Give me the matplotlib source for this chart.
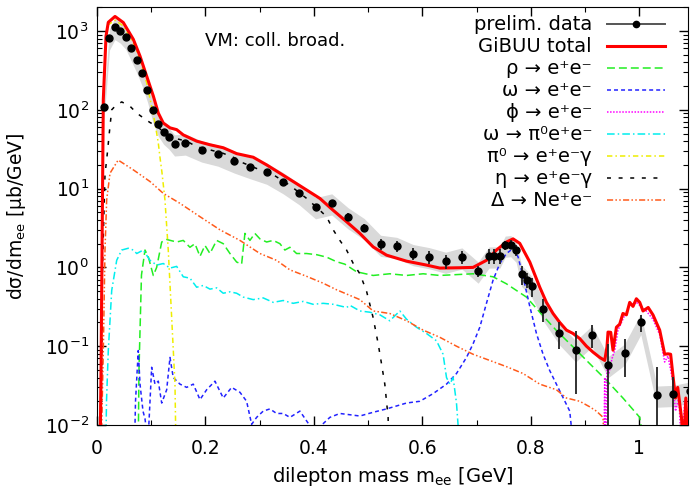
import matplotlib
matplotlib.use('Agg')
import matplotlib.pyplot as plt
import numpy as np
from matplotlib.ticker import LogLocator, MultipleLocator, FuncFormatter

plt.rcParams['font.family'] = ['DejaVu Sans']
plt.rcParams['mathtext.fontset'] = 'dejavusans'

# preliminary data, stat errors and systematic band fraction
m_data = [0.013, 0.023, 0.033, 0.043, 0.053, 0.063, 0.073, 0.083, 0.093, 0.103,
          0.113, 0.123, 0.133, 0.143, 0.163, 0.193, 0.223, 0.253, 0.283, 0.313,
          0.343, 0.373, 0.403, 0.433, 0.463, 0.493, 0.523, 0.553, 0.583, 0.613,
          0.643, 0.673, 0.703, 0.723, 0.733, 0.743, 0.753, 0.763, 0.773, 0.783,
          0.793, 0.803, 0.823, 0.853, 0.883, 0.913, 0.943, 0.973, 1.003, 1.033,
          1.063, 1.093]
y_data = [110, 820, 1110, 1000, 840, 600, 427, 289, 180, 100,
          66, 52, 45, 37, 38, 31, 27.5, 22.5, 19, 16.2,
          12.3, 8.9, 5.9, 6.6, 4.4, 3.2, 1.97, 1.85, 1.5, 1.37,
          1.2, 1.36, 0.90, 1.4, 1.4, 1.4, 1.92, 1.95, 1.66, 0.82,
          0.70, 0.575, 0.30, 0.148, 0.090, 0.14, 0.057, 0.082, 0.20, 0.024,
          0.0245, 0.027]
err_data = [8, 25, 30, 30, 25, 18, 13, 9, 6, 4,
            3, 2.5, 2.5, 2.5, 2, 2, 1.8, 1.5, 1.2, 1.0,
            0.8, 0.6, 0.45, 0.6, 0.5, 0.35, 0.3, 0.3, 0.25, 0.25,
            0.25, 0.25, 0.15, 0.3, 0.3, 0.3, 0.25, 0.25, 0.25, 0.22,
            0.15, 0.15, 0.1, 0.055, 0.065, 0.045, 0.05, 0.041, 0.05, 0.03,
            0.016, 0.018]
sys_frac = 0.3

# GiBUU total
m_tot = [0.0046, 0.0074, 0.0116, 0.0166, 0.0208, 0.0332, 0.0485, 0.0669, 0.0793, 0.0916,
         0.1038, 0.113, 0.1222, 0.1346, 0.1469, 0.1591, 0.1838, 0.2083, 0.2328, 0.2575,
         0.2881, 0.3128, 0.3373, 0.3618, 0.3866, 0.4111, 0.4356, 0.4603, 0.4848, 0.5093,
         0.534, 0.5709, 0.6077, 0.6323, 0.6691, 0.6936, 0.7183, 0.7368, 0.7552, 0.7674,
         0.7797, 0.7982, 0.8166, 0.8289, 0.8411, 0.8535, 0.8658, 0.878, 0.8903, 0.9027,
         0.9149, 0.9272, 0.9364, 0.9406, 0.9425, 0.9475, 0.9517, 0.958, 0.964, 0.970,
         0.9764, 0.9825, 0.9886, 0.9948, 1.001, 1.007, 1.0166, 1.0254, 1.0378, 1.047,
         1.053, 1.058, 1.062, 1.067, 1.071, 1.078, 1.082, 1.086, 1.089]
y_tot = [0.001, 0.05, 135, 860, 1290, 1530, 1280, 785, 480, 267,
         150, 91, 68, 59, 56, 48, 40, 36, 33, 27.8,
         25, 20, 15.7, 12.3, 9.6, 7.5, 5.3, 3.8, 2.7, 1.82,
         1.43, 1.2, 1.07, 0.98, 0.99, 1.0, 1.23, 1.66, 2.1, 2.3,
         2.02, 1.17, 0.56, 0.36, 0.26, 0.20, 0.16, 0.145, 0.125, 0.10,
         0.084, 0.072, 0.066, 0.098, 0.151, 0.15, 0.089, 0.174, 0.19, 0.26,
         0.25, 0.36, 0.32, 0.40, 0.36, 0.28, 0.31, 0.25, 0.16, 0.079,
         0.08, 0.079, 0.044, 0.022, 0.03, 0.0125, 0.005, 0.022, 0.008]

# rho -> e+e-
m_rho = [0.075, 0.0774, 0.082, 0.0885, 0.0946, 0.1038, 0.110, 0.1193, 0.1285, 0.1469,
         0.1591, 0.1714, 0.1806, 0.1899, 0.1991, 0.2083, 0.2206, 0.2328, 0.2452, 0.2575,
         0.2667, 0.2728, 0.282, 0.2912, 0.3005, 0.3128, 0.325, 0.3373, 0.3465, 0.3558,
         0.3681, 0.3866, 0.405, 0.4234, 0.4418, 0.457, 0.4787, 0.5093, 0.54, 0.571,
         0.6015, 0.632, 0.6936, 0.7305, 0.755, 0.792, 0.8166, 0.8474, 0.878, 0.9088,
         0.9395, 0.970, 1.001, 1.010]
y_rho = [0.001, 0.05, 0.8, 1.66, 1.36, 0.79, 1.0, 2.1, 2.26, 2.1,
         2.2, 1.8, 2.0, 1.38, 1.9, 1.5, 2.2, 2.0, 1.5, 1.17,
         1.1, 2.7, 2.2, 2.7, 2.3, 2.1, 2.2, 2.0, 1.66, 1.8,
         1.5, 1.5, 1.45, 1.35, 1.18, 1.1, 0.88, 0.79, 0.83, 0.79,
         0.83, 0.79, 0.83, 0.76, 0.62, 0.42, 0.27, 0.158, 0.098, 0.06,
         0.037, 0.022, 0.0125, 0.005]

# omega -> e+e-
m_omg = [0.067, 0.071, 0.0761, 0.0793, 0.0848, 0.0885, 0.094, 0.1008, 0.1069, 0.113,
         0.1193, 0.1285, 0.1346, 0.1406, 0.153, 0.1653, 0.1775, 0.1899, 0.2022, 0.2175,
         0.2328, 0.2483, 0.2636, 0.2759, 0.2852, 0.2944, 0.3065, 0.3189, 0.3312, 0.3434,
         0.3558, 0.3742, 0.3926, 0.411, 0.4295, 0.4479, 0.4848, 0.5093, 0.534, 0.5709,
         0.5954, 0.6199, 0.6446, 0.663, 0.6815, 0.6936, 0.706, 0.7183, 0.7305, 0.7429,
         0.7552, 0.7674, 0.7766, 0.7858, 0.7982, 0.8105, 0.8227, 0.835, 0.8535, 0.8719,
         0.879]
y_omg = [0.001, 0.02, 0.088, 0.033, 0.015, 0.012, 0.006, 0.054, 0.033, 0.036,
         0.019, 0.028, 0.072, 0.04, 0.033, 0.03, 0.033, 0.021, 0.028, 0.036,
         0.022, 0.03, 0.026, 0.02, 0.0102, 0.0125, 0.015, 0.016, 0.014, 0.014,
         0.0125, 0.015, 0.0098, 0.0095, 0.0125, 0.014, 0.013, 0.0145, 0.016, 0.019,
         0.02, 0.025, 0.033, 0.045, 0.072, 0.107, 0.174, 0.35, 0.69, 1.12,
         1.5, 1.74, 1.36, 0.76, 0.32, 0.145, 0.079, 0.049, 0.027, 0.015,
         0.005]

# phi -> e+e-
m_phi = [0.934, 0.9364, 0.938, 0.9406, 0.944, 0.950, 0.955, 0.9609, 0.970, 0.982,
         0.9948, 1.001, 1.013, 1.0254, 1.0378, 1.047, 1.053, 1.062, 1.067, 1.073,
         1.078, 1.084, 1.089]
y_phi = [0.001, 0.04, 0.002, 0.053, 0.045, 0.07, 0.089, 0.16, 0.22, 0.33,
         0.36, 0.33, 0.28, 0.22, 0.14, 0.063, 0.075, 0.036, 0.015, 0.022,
         0.005, 0.02, 0.006]

# omega -> pi0 e+e-
m_omd = [0.0147, 0.0175, 0.0208, 0.0271, 0.0363, 0.0455, 0.0577, 0.0669, 0.0732, 0.0853,
         0.0977, 0.110, 0.1222, 0.1346, 0.1469, 0.1591, 0.1714, 0.1838, 0.196, 0.2083,
         0.2206, 0.2328, 0.2452, 0.2575, 0.2697, 0.2881, 0.3065, 0.325, 0.3434, 0.3618,
         0.3803, 0.3987, 0.4171, 0.4356, 0.4603, 0.4664, 0.4848, 0.5032, 0.5217, 0.54,
         0.5585, 0.5709, 0.5893, 0.6077, 0.6262, 0.6383, 0.6446, 0.6507, 0.6568, 0.663,
         0.6691]
y_omd = [0.001, 0.02, 0.088, 0.51, 1.23, 1.66, 1.75, 1.66, 1.5, 1.66,
         1.23, 1.07, 1.12, 0.98, 1.03, 0.76, 0.73, 0.56, 0.59, 0.53,
         0.55, 0.47, 0.49, 0.47, 0.42, 0.39, 0.41, 0.36, 0.38, 0.35,
         0.37, 0.34, 0.35, 0.34, 0.31, 0.33, 0.28, 0.27, 0.25, 0.21,
         0.28, 0.22, 0.174, 0.145, 0.117, 0.079, 0.04, 0.033, 0.04, 0.019,
         0.005]

# pi0 -> e+e-gamma
m_pi0 = [0.0046, 0.0074, 0.0116, 0.0166, 0.0208, 0.0332, 0.0485, 0.0669, 0.0793, 0.0916,
         0.1008, 0.1069, 0.113, 0.1161, 0.1198, 0.1253, 0.1314, 0.1377, 0.1438, 0.1456]
y_pi0 = [0.001, 0.05, 130, 820, 1200, 1370, 1160, 710, 437, 220,
         110, 68, 38, 25, 16, 7.2, 1.66, 0.23, 0.033, 0.005]

# eta -> e+e-gamma
m_eta = [0.0065, 0.010, 0.0147, 0.019, 0.0227, 0.0271, 0.0332, 0.0455, 0.0608, 0.0732,
         0.0853, 0.0977, 0.110, 0.1222, 0.1406, 0.1653, 0.1838, 0.2083, 0.2328, 0.2575,
         0.2636, 0.2943, 0.325, 0.3558, 0.3866, 0.4111, 0.4234, 0.4356, 0.4479, 0.4603,
         0.4726, 0.4848, 0.4971, 0.5093, 0.5186, 0.5247, 0.5308, 0.5369, 0.539]
y_eta = [0.001, 1.0, 15, 28, 51, 100, 111, 126, 111, 91,
         79, 69, 62, 53, 44, 40, 34, 31, 28, 24,
         22, 18, 15, 11, 7.5, 5.3, 4.4, 3.0, 2.2, 1.66,
         1.12, 0.83, 0.5, 0.23, 0.107, 0.06, 0.033, 0.0125, 0.003]

# Delta -> N e+e-
m_del = [0.0055, 0.0116, 0.0147, 0.0178, 0.024, 0.039, 0.0669, 0.0977, 0.1222, 0.153,
         0.1899, 0.2267, 0.2636, 0.3005, 0.331, 0.3558, 0.3866, 0.4171, 0.4418, 0.4848,
         0.5093, 0.54, 0.571, 0.6015, 0.632, 0.663, 0.6936, 0.7242, 0.7552, 0.7858,
         0.8166, 0.8474, 0.8658, 0.8903, 0.9088, 0.9211, 0.9333, 0.937]
y_del = [0.001, 0.088, 1.66, 7.2, 15.7, 23, 17.3, 12.3, 8.7, 6.5,
         4.4, 3.0, 2.2, 1.5, 1.23, 0.93, 0.77, 0.63, 0.52, 0.39,
         0.28, 0.26, 0.21, 0.16, 0.13, 0.10, 0.079, 0.066, 0.055, 0.045,
         0.033, 0.028, 0.022, 0.02, 0.017, 0.015, 0.0125, 0.003]

labels = ['prelim. data', 'GiBUU total',
          'ρ → e⁺e⁻', 'ω → e⁺e⁻', 'ϕ → e⁺e⁻',
          'ω → π⁰e⁺e⁻', 'π⁰ → e⁺e⁻γ', 'η → e⁺e⁻γ',
          'Δ → Ne⁺e⁻']

fig = plt.figure(figsize=(6.92, 4.92), dpi=100)
ax = fig.add_axes([0.1402, 0.1362, 0.854, 0.849])

yd = np.array(y_data)
ax.fill_between(m_data, yd * (1 - sys_frac), yd * (1 + sys_frac),
                color='#d9d9d9', lw=0, zorder=1)

lw = 1.1
comps = [
    (m_rho, y_rho, '#22ee22', (0, (5.2, 2.6))),
    (m_omg, y_omg, '#2222ff', (0, (2.6, 2.0))),
    (m_phi, y_phi, '#ff00ff', (0, (1, 1))),
    (m_omd, y_omd, '#00eeee', (0, (5, 2, 1, 2))),
    (m_pi0, y_pi0, '#eeee00', (0, (3.5, 2, 1, 2))),
    (m_eta, y_eta, 'black', (0, (2.6, 5))),
    (m_del, y_del, '#ff5a1a', (0, (4, 1.5, 1, 1.5, 1, 1.5))),
]
for mx, my, c, ls in comps:
    ax.plot(mx, my, color=c, lw=lw, ls=ls, zorder=2)

ax.plot(m_tot, y_tot, color='red', lw=2.2, zorder=3)

ax.errorbar(m_data, y_data, yerr=err_data, fmt='o', color='black', ms=5,
            ecolor='#222222', elinewidth=1.3, capsize=0, zorder=4)

ax.set_yscale('log')
ax.set_xlim(0, 1.09)
ax.set_ylim(0.01, 2000)

ax.xaxis.set_major_locator(MultipleLocator(0.2))
ax.xaxis.set_minor_locator(MultipleLocator(0.1))
ax.xaxis.set_major_formatter(FuncFormatter(lambda v, p: '%g' % v))
ax.yaxis.set_major_locator(LogLocator(base=10, numticks=10))
ax.yaxis.set_minor_locator(LogLocator(base=10, subs=np.arange(2, 10), numticks=20))
ax.tick_params(which='both', direction='in', top=True, right=True, labelsize=13.5)
ax.tick_params(which='major', length=6.5, width=1)
ax.tick_params(which='minor', length=3.5, width=0.8)
ax.tick_params(axis='x', pad=10)
ax.tick_params(axis='y', pad=6)

ax.set_xlabel('dilepton mass m$_\\mathrm{ee}$ [GeV]', fontsize=14)
ax.set_ylabel('dσ/dm$_\\mathrm{ee}$ [μb/GeV]', fontsize=13.5)
ax.xaxis.set_label_coords(0.5, -0.095)
ax.yaxis.set_label_coords(-0.117, 0.5)

ax.text(0.183, 0.92, 'VM: coll. broad.', transform=ax.transAxes,
        fontsize=13, va='center', ha='left')

# legend drawn by hand: labels right-aligned, samples to the right
row_y = 0.9594 - 0.0526 * np.arange(len(labels))
x_txt, x0, x1 = 0.8376, 0.8629, 0.9611
styles = [('#555555', '-', 1.4), ('red', '-', 2.2)] + [(c, ls, lw) for _, _, c, ls in comps]
for yy, lab, (c, ls, w) in zip(row_y, labels, styles):
    ax.text(x_txt, yy - 0.0144, lab, transform=ax.transAxes, ha='right',
            va='baseline', fontsize=14)
    ax.plot([x0, x1], [yy, yy], transform=ax.transAxes, color=c, ls=ls, lw=w,
            clip_on=False, zorder=5)
ax.plot([(x0 + x1) / 2], [row_y[0]], transform=ax.transAxes, marker='o', ms=4.5,
        color='black', clip_on=False, zorder=6)

fig.savefig('out.png', dpi=100)
